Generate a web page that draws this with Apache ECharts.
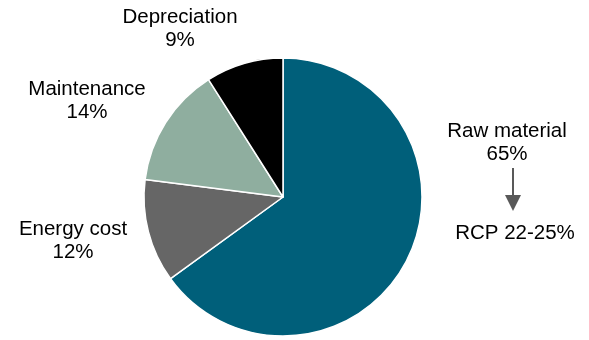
<!DOCTYPE html>
<html>
<head>
<meta charset="utf-8">
<script src="https://cdn.jsdelivr.net/npm/echarts@6/dist/echarts.min.js"></script>
<style>
  html, body { margin: 0; padding: 0; background: #fff; }
  #chart { width: 589px; height: 340px; }
</style>
</head>
<body>
<div id="chart"></div>
<script>
// cost breakdown, clockwise from 12 o'clock
const categories = ['Raw material', 'Energy cost', 'Maintenance', 'Depreciation'];
const shares = [65, 12, 14, 9];
const colors = ['#005f7a', '#666666', '#8fae9f', '#000000'];
const note = 'RCP 22-25%';

// where each label block is centred (matches the reference layout)
const labelPos = [[507, 143], [73, 241], [87, 101], [180, 29]];

const chart = echarts.init(document.getElementById('chart'));

const option = {
  animation: false,
  textStyle: { fontFamily: 'Liberation Sans, Arial, sans-serif' },
  series: [
    {
      type: 'pie',
      center: [283, 197],
      radius: [0, 139],
      startAngle: 90,
      clockwise: true,
      data: categories.map((name, i) => ({
        name,
        value: shares[i],
        itemStyle: { color: colors[i] }
      })),
      itemStyle: { borderColor: '#fff', borderWidth: 1.5 },
      label: {
        show: true,
        position: 'outside',
        formatter: '{b}\n{c}%',
        color: '#000',
        fontSize: 20.5,
        lineHeight: 23,
        align: 'center',
        overflow: 'none',
        width: 200
      },
      labelLine: { show: false },
      labelLayout: function (params) {
        const p = labelPos[params.dataIndex];
        return { x: p[0], y: p[1], align: 'center', verticalAlign: 'middle' };
      },
      emphasis: { disabled: true }
    }
  ],
  graphic: [
    {
      type: 'line',
      shape: { x1: 513, y1: 168, x2: 513, y2: 197 },
      style: { stroke: '#595959', lineWidth: 2 }
    },
    {
      type: 'polygon',
      shape: { points: [[505, 195], [521, 195], [513, 211]] },
      style: { fill: '#595959' }
    },
    {
      type: 'text',
      x: 515,
      y: 233,
      style: {
        text: note,
        font: '20.5px Liberation Sans, Arial, sans-serif',
        fill: '#000',
        align: 'center',
        verticalAlign: 'middle'
      }
    }
  ]
};

chart.setOption(option);

window.addEventListener('resize', () => {
  chart.resize();
});
</script>
</body>
</html>
